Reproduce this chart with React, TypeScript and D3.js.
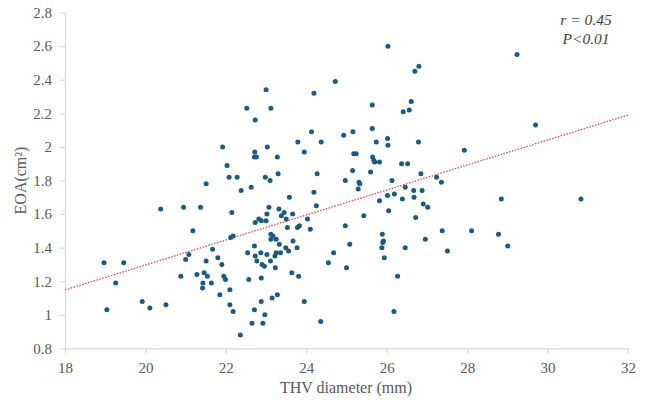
import React, { useEffect, useRef } from "react";
import * as d3 from "d3";

// values (THV diameter in mm, EOA in cm²)
const thvDiameter = [
  18.97, 19.04, 19.26, 19.46, 19.92, 20.11, 20.38, 20.51, 20.88, 20.95,
  21.0, 21.08, 21.18, 21.28, 21.37, 21.43, 21.42, 21.46, 21.51, 21.54,
  21.64, 21.67, 21.8, 21.85, 21.9, 21.51, 22.73, 21.92, 22.72, 23.03,
  22.71, 22.76, 23.28, 22.03, 23.3, 22.98, 23.1, 22.08, 22.28, 22.63,
  22.38, 23.58, 22.15, 23.07, 23.32, 23.45, 23.66, 23.38, 23.02, 22.82,
  22.88, 23.0, 22.73, 23.5, 23.53, 23.78, 23.83, 22.18, 22.12, 23.12,
  23.17, 23.12, 23.25, 23.33, 23.67, 23.49, 23.56, 23.77, 22.71, 22.54,
  22.73, 22.87, 23.02, 23.25, 23.36, 23.22, 22.77, 23.11, 22.9, 22.96,
  23.23, 21.95, 21.99, 22.57, 22.88, 23.64, 23.81, 22.1, 22.88, 23.15,
  23.28, 22.1, 22.18, 22.71, 22.97, 22.65, 22.92, 22.36, 22.52, 23.0,
  23.12, 23.79, 24.13, 24.37, 23.95, 24.93, 25.16, 25.64, 26.02, 25.74,
  26.03, 25.18, 25.24, 25.65, 25.68, 25.7, 25.82, 24.27, 25.15, 25.6,
  24.97, 25.31, 25.33, 25.29, 26.13, 24.19, 24.25, 26.19, 26.02, 25.82,
  26.05, 25.43, 24.03, 24.1, 24.97, 25.89, 25.92, 25.9, 25.88, 25.94,
  25.08, 24.68, 24.55, 25.0, 26.27, 23.95, 26.18, 24.36, 24.19, 24.72,
  25.64, 26.03, 26.8, 26.7, 26.61, 26.41, 26.56, 26.79, 26.37, 26.52,
  27.93, 26.85, 27.24, 27.36, 26.46, 26.67, 26.88, 26.68, 26.39, 26.91,
  27.02, 26.72, 27.38, 28.11, 26.96, 26.46, 27.51, 29.24, 29.7, 28.85,
  30.83, 28.78, 29.01,
];

const eoa = [
  1.31, 1.03, 1.19, 1.31, 1.08, 1.04, 1.63, 1.06, 1.23, 1.64,
  1.33, 1.36, 1.5, 1.24, 1.64, 1.19, 1.16, 1.25, 1.32, 1.23,
  1.19, 1.39, 1.34, 1.12, 1.3, 1.78, 2.16, 2.0, 1.97, 2.0,
  1.94, 1.94, 1.94, 1.89, 1.84, 1.82, 1.8, 1.82, 1.82, 1.76,
  1.74, 1.7, 1.61, 1.64, 1.63, 1.61, 1.6, 1.59, 1.6, 1.57,
  1.56, 1.56, 1.55, 1.57, 1.52, 1.52, 1.53, 1.47, 1.46, 1.48,
  1.47, 1.45, 1.45, 1.42, 1.44, 1.4, 1.38, 1.4, 1.41, 1.37,
  1.35, 1.37, 1.36, 1.37, 1.37, 1.35, 1.32, 1.32, 1.3, 1.29,
  1.28, 1.23, 1.21, 1.21, 1.22, 1.25, 1.23, 1.15, 1.08, 1.1,
  1.12, 1.06, 1.02, 1.03, 1.0, 0.95, 0.95, 0.88, 2.23, 2.34,
  2.23, 2.03, 2.09, 2.03, 1.97, 2.07, 2.09, 2.11, 2.05, 2.03,
  2.01, 1.96, 1.96, 1.94, 1.92, 1.91, 1.91, 1.84, 1.86, 1.85,
  1.8, 1.79, 1.78, 1.75, 1.8, 1.73, 1.65, 1.72, 1.71, 1.68,
  1.62, 1.59, 1.57, 1.51, 1.53, 1.48, 1.44, 1.43, 1.4, 1.34,
  1.42, 1.37, 1.31, 1.28, 1.23, 1.08, 1.02, 0.96, 2.32, 2.39,
  2.25, 2.6, 2.48, 2.45, 2.27, 2.21, 2.22, 2.03, 1.9, 1.9,
  1.98, 1.84, 1.82, 1.79, 1.76, 1.74, 1.74, 1.7, 1.69, 1.66,
  1.64, 1.58, 1.5, 1.5, 1.45, 1.4, 1.38, 2.55, 2.13, 1.69,
  1.69, 1.48, 1.41,
];

// linear trend line as drawn in the reference
const trendX = [18, 32];
const trendY = [1.148, 2.19];

const xTicks = [18, 20, 22, 24, 26, 28, 30, 32];
const yTicks = [0.8, 1, 1.2, 1.4, 1.6, 1.8, 2, 2.2, 2.4, 2.6, 2.8];

const statLines = ["r = 0.45", "P<0.01"];

const width = 646;
const height = 402;
const font = "'Liberation Serif', 'Times New Roman', serif";

const App = () => {
  const ref = useRef<SVGSVGElement>(null);

  useEffect(() => {
    const svg = d3.select(ref.current);
    svg.selectAll("*").remove();

    const x = d3.scaleLinear().domain([18, 32]).range([65, 628]);
    const y = d3.scaleLinear().domain([0.8, 2.8]).range([348.4, 12.6]);

    const xAxis = svg
      .append("g")
      .attr("transform", `translate(0, ${y(0.8)})`)
      .call(
        d3
          .axisBottom(x)
          .tickValues(xTicks)
          .tickSize(5)
          .tickSizeOuter(0)
          .tickPadding(9)
          .tickFormat((d) => String(d))
      );

    const yAxis = svg
      .append("g")
      .attr("transform", `translate(${x(18)}, 0)`)
      .call(
        d3
          .axisLeft(y)
          .tickValues(yTicks)
          .tickSize(5)
          .tickSizeOuter(0)
          .tickPadding(8)
          .tickFormat((d) => String(+(+d).toFixed(1)))
      );

    [xAxis, yAxis].forEach((g) => {
      g.select(".domain").attr("stroke", "#d9d9d9").attr("stroke-width", 1.2);
      g.selectAll(".tick line").attr("stroke", "#d9d9d9").attr("stroke-width", 1.2);
      g.selectAll(".tick text")
        .attr("fill", "#595959")
        .style("font-family", font)
        .style("font-size", "15px");
    });

    // trend line
    const line = d3
      .line<number>()
      .x((d) => x(d))
      .y((_, i) => y(trendY[i]));
    svg
      .append("path")
      .datum(trendX)
      .attr("d", line)
      .attr("fill", "none")
      .attr("stroke", "#e05050")
      .attr("stroke-width", 1.3)
      .attr("stroke-dasharray", "1.6,1.4");

    // points
    svg
      .append("g")
      .selectAll("circle")
      .data(thvDiameter.map((d, i) => ({ x: d, y: eoa[i] })))
      .enter()
      .append("circle")
      .attr("cx", (d) => x(d.x))
      .attr("cy", (d) => y(d.y))
      .attr("r", 2.5)
      .attr("fill", "#1b5b82");

    // axis titles
    svg
      .append("text")
      .attr("x", 346)
      .attr("y", 393)
      .attr("text-anchor", "middle")
      .attr("fill", "#595959")
      .style("font-family", font)
      .style("font-size", "16px")
      .text("THV diameter (mm)");

    svg
      .append("text")
      .attr("transform", `translate(26, ${(y(0.8) + y(2.8)) / 2}) rotate(-90)`)
      .attr("text-anchor", "middle")
      .attr("fill", "#595959")
      .style("font-family", font)
      .style("font-size", "16px")
      .text("EOA(cm²)");

    // statistics
    svg
      .append("g")
      .selectAll("text")
      .data(statLines)
      .enter()
      .append("text")
      .attr("x", 586)
      .attr("y", (_, i) => 25 + i * 19)
      .attr("text-anchor", "middle")
      .attr("fill", "#404040")
      .style("font-family", font)
      .style("font-style", "italic")
      .style("font-size", "15.5px")
      .text((d) => d);
  }, []);

  return (
    <svg
      ref={ref}
      width={width}
      height={height}
      style={{ position: "absolute", left: 0, top: 0, background: "#fff" }}
    ></svg>
  );
};

export default App;
